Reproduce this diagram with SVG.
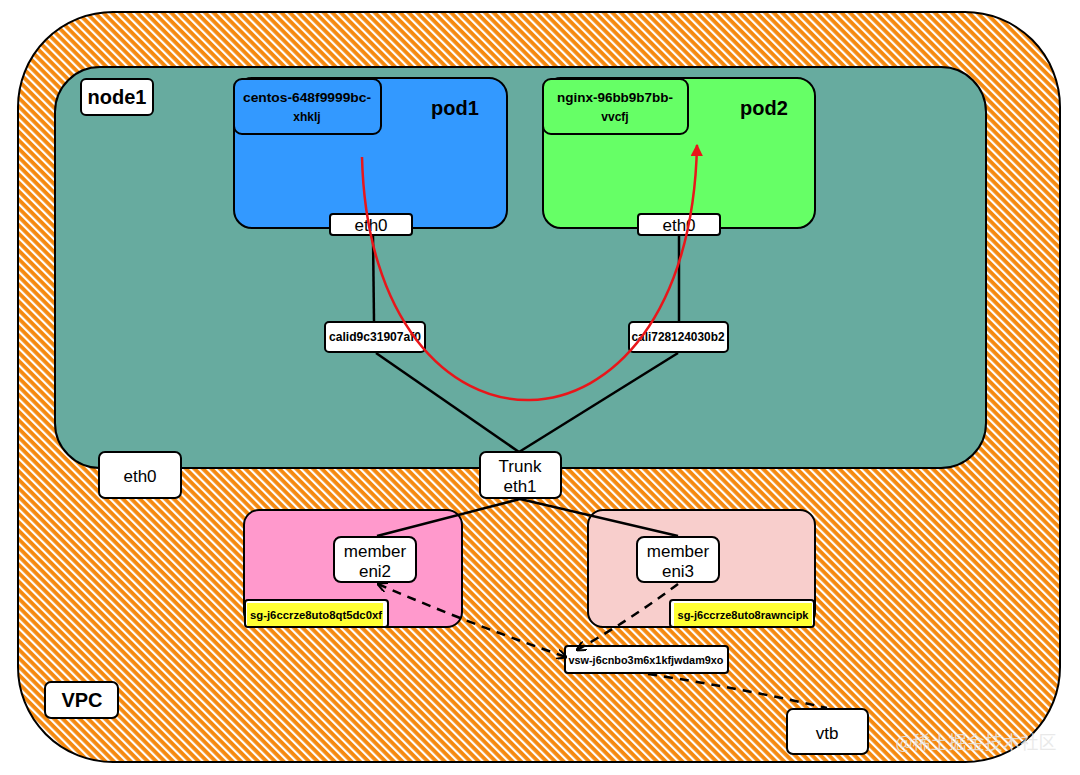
<svg xmlns="http://www.w3.org/2000/svg" width="1080" height="775" viewBox="0 0 1080 775">
  <defs>
    <pattern id="hatch" width="6" height="6" patternUnits="userSpaceOnUse" patternTransform="rotate(45)">
      <rect width="6" height="6" fill="#ffffff"/>
      <rect width="6" height="3.8" fill="#F5890F"/>
    </pattern>
    <marker id="redHead" viewBox="0 0 10 10" refX="9" refY="5" markerWidth="5" markerHeight="5" orient="auto" markerUnits="strokeWidth">
      <path d="M0,0 L10,5 L0,10 z" fill="#E8161A"/>
    </marker>
    <marker id="openHead" viewBox="0 0 10 10" refX="9" refY="5" markerWidth="4" markerHeight="4" orient="auto-start-reverse" markerUnits="strokeWidth">
      <path d="M0,0 L10,5 L0,10" fill="none" stroke="#000" stroke-width="2"/>
    </marker>
    <style>
      .box { stroke: #000; stroke-width: 2; }
      .white { fill: #ffffff; stroke: #000; stroke-width: 2; }
      .line { stroke: #000; stroke-width: 2.5; fill: none; }
      .dash { stroke: #000; stroke-width: 2.5; fill: none; stroke-dasharray: 9 7; }
      .t { font-family: "Liberation Sans", "DejaVu Sans", sans-serif; fill: #000; text-anchor: middle; }
      .big { font-size: 20px; font-weight: bold; }
      .mid { font-size: 17px; }
      .small { font-size: 12px; font-weight: bold; }
      .tiny { font-size: 10.5px; font-weight: bold; }
    </style>
  </defs>

  <rect width="1080" height="775" fill="#ffffff"/>

  <g id="vpc">
    <rect x="18" y="12" width="1042" height="750" rx="95" ry="95" fill="url(#hatch)" class="box"/>
    <rect x="45" y="682" width="73" height="36" rx="6" class="white"/>
    <text x="82" y="707" class="t big">VPC</text>
  </g>

  <g id="node1">
    <rect x="55" y="67" width="931" height="401" rx="45" ry="45" fill="#67AB9F" class="box"/>
    <rect x="81" y="79" width="72" height="36" rx="5" class="white"/>
    <text x="117" y="104" class="t big">node1</text>
  </g>

  <g id="pod1">
    <rect x="234" y="78" width="273" height="150" rx="18" fill="#3399FF" class="box"/>
    <rect x="234" y="79" width="147" height="55" rx="8" fill="#3399FF" class="box"/>
    <text x="307" y="102" class="t small" textLength="128" lengthAdjust="spacingAndGlyphs">centos-648f9999bc-</text>
    <text x="307" y="121" class="t small">xhklj</text>
    <text x="455" y="115" class="t big">pod1</text>
  </g>

  <g id="pod1-eth0">
    <rect x="330" y="214" width="82" height="21" rx="3" class="white"/>
    <text x="371" y="231" class="t mid">eth0</text>
  </g>

  <g id="pod2">
    <rect x="543" y="78" width="272" height="150" rx="18" fill="#66FF66" class="box"/>
    <rect x="543" y="79" width="145" height="55" rx="8" fill="#66FF66" class="box"/>
    <text x="615" y="102" class="t small" textLength="116" lengthAdjust="spacingAndGlyphs">nginx-96bb9b7bb-</text>
    <text x="615" y="121" class="t small">vvcfj</text>
    <text x="764" y="115" class="t big">pod2</text>
  </g>

  <g id="pod2-eth0">
    <rect x="638" y="214" width="82" height="21" rx="3" class="white"/>
    <text x="679" y="231" class="t mid">eth0</text>
  </g>

  <g id="calid">
    <rect x="325" y="322" width="100" height="30" rx="4" class="white"/>
    <text x="375" y="341" class="t small" textLength="92" lengthAdjust="spacingAndGlyphs">calid9c31907af0</text>
  </g>

  <g id="cali">
    <rect x="629" y="322" width="99" height="30" rx="4" class="white"/>
    <text x="678" y="341" class="t small" textLength="93" lengthAdjust="spacingAndGlyphs">cali728124030b2</text>
  </g>

  <g id="node-eth0">
    <rect x="99" y="452" width="82" height="46" rx="6" class="white"/>
    <text x="140" y="482" class="t mid">eth0</text>
  </g>

  <g id="trunk">
    <rect x="480" y="452" width="81" height="46" rx="6" class="white"/>
    <text x="520" y="472" class="t mid">Trunk</text>
    <text x="520" y="492" class="t mid">eth1</text>
  </g>

  <g id="eni2-group">
    <rect x="244" y="510" width="218" height="117" rx="15" fill="#FF99CC" class="box"/>
    <rect x="334" y="537" width="82" height="45" rx="7" class="white"/>
    <text x="375" y="557" class="t mid">member</text>
    <text x="375" y="577" class="t mid">eni2</text>
    <rect x="245" y="600" width="143" height="27" rx="3" class="white"/>
    <rect x="247" y="603" width="136" height="23" fill="#FFFF33"/>
    <text x="316" y="619" class="t tiny" textLength="132" lengthAdjust="spacingAndGlyphs">sg-j6ccrze8uto8qt5dc0xf</text>
  </g>

  <g id="eni3-group">
    <rect x="588" y="510" width="227" height="117" rx="15" fill="#F8CECC" class="box"/>
    <rect x="637" y="537" width="82" height="45" rx="7" class="white"/>
    <text x="678" y="557" class="t mid">member</text>
    <text x="678" y="577" class="t mid">eni3</text>
    <rect x="670" y="600" width="144" height="27" rx="3" class="white"/>
    <rect x="674" y="603" width="138" height="23" fill="#FFFF33"/>
    <text x="743" y="619" class="t tiny" textLength="131" lengthAdjust="spacingAndGlyphs">sg-j6ccrze8uto8rawncipk</text>
  </g>

  <g id="vsw">
    <rect x="565" y="646" width="163" height="27" rx="3" class="white"/>
    <text x="646" y="664" class="t tiny" textLength="155" lengthAdjust="spacingAndGlyphs">vsw-j6cnbo3m6x1kfjwdam9xo</text>
  </g>

  <g id="vtb">
    <rect x="787" y="709" width="81" height="45" rx="6" class="white"/>
    <text x="827" y="739" class="t mid">vtb</text>
  </g>

  <g id="connectors">
    <path class="line" d="M373,236 L374,321"/>
    <path class="line" d="M679,236 L679,321"/>
    <path class="line" d="M376,353 L519,452"/>
    <path class="line" d="M678,353 L519,452"/>
    <path class="line" d="M520,499 L377,536"/>
    <path class="line" d="M520,499 L678,536"/>
    <path class="dash" d="M378,584 Q470,624 566,657" marker-start="url(#openHead)" marker-end="url(#openHead)"/>
    <path class="dash" d="M678,584 Q630,620 577,650" marker-end="url(#openHead)"/>
    <path class="dash" d="M648,674 Q740,688 827,708"/>
  </g>

  <g id="traffic">
    <path d="M362,157 C370,483 690,483 697,145" fill="none" stroke="#E8161A" stroke-width="2.5" marker-end="url(#redHead)"/>
  </g>

  <text x="976" y="749" font-family="'Noto Sans CJK SC', sans-serif" font-size="18" fill="#e6e6e6" fill-opacity="0.85" text-anchor="middle">@稀土掘金技术社区</text>
</svg>
